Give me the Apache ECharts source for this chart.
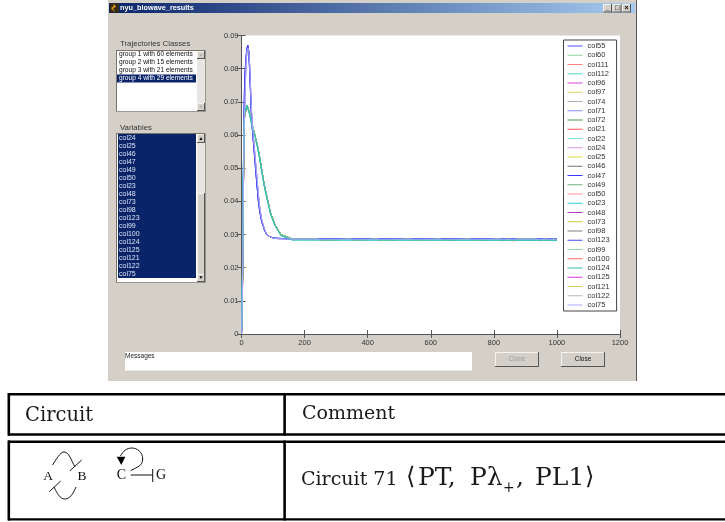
<!DOCTYPE html>
<html><head><meta charset="utf-8">
<style>html,body{margin:0;padding:0;background:#fff}#c{width:725px;height:522px}</style>
<script src="https://cdn.jsdelivr.net/npm/echarts@6/dist/echarts.min.js"></script>
</head><body><div id="c"></div>
<script>
const xTicks = [0,200,400,600,800,1000,1200];
const yTickLabels = ['0','0.01','0.02','0.03','0.04','0.05','0.06','0.07','0.08','0.09'];
const tallTime     = [0,3,5,8,10,14,17,20,23,26,32,38,43,48,53,58,64,72,80,92,106,125,160,1000];
const tallBlue     = [0,.015,.038,.066,.077,.083,.086,.087,.085,.079,.0646,.0575,.0516,.046,.0405,.0368,.0339,.0315,.0299,.0292,.0289,.0288,.0287,.0287];
const tallLavender = [0,.013,.034,.062,.068,.081,.085,.0862,.0855,.081,.0668,.0590,.0535,.0482,.0425,.0380,.0345,.0318,.0300,.0292,.0288,.0287,.0286,.0286];
const lowTime      = [0,3,5,8,10,14,17,20,23,26,32,38,43,48,53,58,64,72,80,92,106,125,160,240,242,256,258,345,347,358,360,430,432,440,442,535,537,552,554,628,630,640,642,722,724,734,736,818,820,830,832,848,850,858,860,864,866,872,874,934,936,944,946,966,968,976,978,990,992,1000];
const lowGreen     = [0,.012,.032,.062,.066,.0675,.069,.0695,.069,.0665,.0636,.0615,.0598,.0578,.0556,.0530,.0495,.0450,.0415,.0365,.0330,.0300,.0287,.0287,.0282,.0282,.0287,.0287,.0282,.0282,.0287,.0287,.0282,.0282,.0287,.0287,.0282,.0282,.0287,.0287,.0282,.0282,.0287,.0287,.0282,.0282,.0287,.0287,.0282,.0282,.0287,.0287,.0282,.0282,.0287,.0287,.0282,.0282,.0287,.0287,.0282,.0282,.0287,.0287,.0282,.0282,.0287,.0287,.0282,.0282];
const cyanTime     = [0,3,5,8,10,14,17,20,23,26,32,38,43,48,53,58,64,72,80,92,106,125,160,1000];
const lowCyan      = [0,.018,.045,.063,.0665,.068,.069,.0692,.0688,.0662,.0632,.0612,.0595,.0575,.0553,.0527,.0492,.0447,.0412,.0362,.0327,.0297,.0284,.0283];
const seriesNames  = ['col55','col60','col111','col112','col96','col97','col74','col71','col72','col21','col22','col24','col25','col46','col47','col49','col50','col23','col48','col73','col98','col123','col99','col100','col124','col125','col121','col122','col75'];
const seriesColors = ['#4a4aff','#8fd49a','#ff8080','#55d0cc','#e040e0','#d8d860','#b0b0b0','#8a8aff','#409a50','#ff5050','#80e0dc','#e090e0','#dcdc30','#707070','#3838ff','#70b080','#ff9090','#30d0d8','#b040c0','#c8c830','#808080','#4848e8','#90d8a0','#ff6060','#30b8a8','#e030e0','#d0d060','#b8b8b8','#a8a8ff'];
const seriesCurves = ['tallBlue','lowGreen','lowGreen','lowCyan','lowGreen','lowGreen','tallLavender','tallLavender','lowGreen','lowGreen','lowCyan','tallLavender','lowGreen','lowGreen','tallBlue','lowGreen','lowGreen','lowCyan','lowGreen','lowGreen','lowGreen','tallBlue','lowGreen','lowGreen','lowCyan','lowGreen','lowGreen','tallLavender','tallLavender'];
const frontSeries  = ['col71','col75','col72','col49','col99','col112','col22','col23','col124','col55','col47','col123'];
const trajectoryClasses = ['group 1 with 60 elements','group 2 with 15 elements','group 3 with 21 elements','group 4 with 29 elements'];
const variableNames = ['col24','col25','col46','col47','col49','col50','col23','col48','col73','col98','col123','col99','col100','col124','col125','col121','col122','col75'];
const curves = {tallBlue:[tallTime,tallBlue], tallLavender:[tallTime,tallLavender], lowGreen:[lowTime,lowGreen], lowCyan:[cyanTime,lowCyan]};

const UI='"Liberation Sans",Arial,sans-serif', SERIF='"DejaVu Serif",serif';
const G=[];
const rect=(x,y,w,h,fill,extra)=>G.push(Object.assign({type:'rect',shape:{x,y,width:w,height:h},style:{fill,stroke:null},z:-5},extra||{}));
const txt=(x,y,t,o)=>G.push({type:'text',x,y,z:-3,style:Object.assign({text:t,fill:'#222',font:'7px '+UI,textVerticalAlign:'middle'},o||{})});
const ln=(x1,y1,x2,y2,c,w)=>G.push({type:'line',shape:{x1,y1,x2,y2},z:-3,style:{stroke:c||'#111',lineWidth:w||1}});
const bez=(x1,y1,cpx1,cpy1,cpx2,cpy2,x2,y2)=>G.push({type:'bezierCurve',shape:{x1,y1,x2,y2,cpx1,cpy1,cpx2,cpy2},z:-3,style:{fill:null,stroke:'#111',lineWidth:1}});
const sunken=(x,y,w,h)=>{rect(x,y,w,1,'#77746c',{z:-4});rect(x,y,1,h,'#77746c',{z:-4});rect(x,y+h-1,w,1,'#9a978f',{z:-4});rect(x+w-1,y,1,h,'#9a978f',{z:-4});};
const raised=(x,y,w,h,c)=>{rect(x,y,w,h,c||'#d4d0c8',{z:-4});rect(x,y+h-1,w,1,'#555',{z:-4});rect(x+w-1,y,1,h,'#555',{z:-4});rect(x,y,w-1,1,'#f4f2ee',{z:-4});rect(x,y,1,h-1,'#f4f2ee',{z:-4});};

// window
rect(108,0,529,381,'#d4d0c8');
rect(636,0,1,381,'#555',{z:-4});
G.push({type:'rect',z:-4,shape:{x:109,y:3,width:526,height:10},style:{fill:new echarts.graphic.LinearGradient(0,0,1,0,[{offset:0,color:'#0a246a'},{offset:1,color:'#a6caf0'}])}});
rect(110,3.5,9,9,'#3a2a10',{z:-3});
G.push({type:'polygon',z:-3,shape:{points:[[114,4],[116,7],[113,8],[115,12],[111,8],[113,7]]},style:{fill:'#f0a020'}});
txt(120,8,'nyu_biowave_results',{fill:'#fff',font:'bold 7.3px '+UI});
[[603,'_'],[612.5,'□'],[622,'×']].forEach(b=>{raised(b[0],4,9,8.5);txt(b[0]+4.5,8,b[1],{fill:'#000',font:'bold 7px '+UI,textAlign:'center'});});

// list 1
txt(120,43.5,'Trajectories Classes',{font:'7.8px '+UI,fill:'#333'});
rect(116,50,90,62,'#fff');sunken(116,50,90,62);
rect(197,51,8,60,'#e8e6e2',{z:-4});
raised(197,51,8,8);raised(197,103,8,8);
txt(201,55,'▲',{fill:'#aaa',font:'4px '+UI,textAlign:'center'});
txt(201,107,'▼',{fill:'#aaa',font:'4px '+UI,textAlign:'center'});
rect(117,74.5,79,8,'#0a246a',{z:-4});
trajectoryClasses.forEach((t,i)=>txt(119,54.5+i*8,t,{font:'6.6px '+UI,fill:i===3?'#fff':'#111'}));

// list 2
txt(120,127.5,'Variables',{font:'7.8px '+UI,fill:'#333'});
rect(116,133,90,150,'#fff');sunken(116,133,90,150);
rect(118,134,78,144,'#0a246a',{z:-4});
rect(197,134,8,148,'#e8e6e2',{z:-4});
raised(197,193,8,82);raised(197,134,8,9);raised(197,274,8,8);
txt(201,138.5,'▲',{fill:'#000',font:'5px '+UI,textAlign:'center'});
txt(201,278,'▼',{fill:'#000',font:'5px '+UI,textAlign:'center'});
variableNames.forEach((t,i)=>txt(119,138.5+i*8,t,{fill:'#dfe4f2'}));

// messages + buttons
rect(125,352,347,18.5,'#fff');
txt(125,356.5,'Messages',{font:'6.5px '+UI});
raised(495,352,44,15);txt(517,359.5,'Clone',{fill:'#999',font:'6.5px '+UI,textAlign:'center'});
raised(561,352,44,15);txt(583,359.5,'Close',{fill:'#111',font:'6.5px '+UI,textAlign:'center'});

// table
const B='#000';
rect(8,393,717,2.6,B);rect(8,433.3,717,2.4,B);rect(8,440.5,717,2.4,B);rect(8,518.2,717,2.4,B);
rect(7.5,393,2.6,42.7,B);rect(7.5,440.5,2.6,80,B);rect(283.3,393,2.6,42.7,B);rect(283.3,440.5,2.6,80,B);
const TC='#1a1a1a';
txt(25,415.5,'Circuit',{font:'19.5px '+SERIF,fill:TC});
txt(302,414.5,'Comment',{font:'19px '+SERIF,fill:TC});
txt(301,480.5,'Circuit 71',{font:'19px '+SERIF,fill:TC});
txt(406,478,'⟨',{font:'24px '+SERIF,fill:TC});
txt(418,478,'PT,',{font:'25px '+SERIF,fill:TC});
txt(470,478,'Pλ',{font:'25px '+SERIF,fill:TC});
txt(503,488,'+',{font:'14px '+SERIF,fill:TC});
txt(516,478,',',{font:'25px '+SERIF,fill:TC});
txt(535,478,'PL1',{font:'25px '+SERIF,fill:TC});
txt(585,478,'⟩',{font:'24px '+SERIF,fill:TC});

// circuit diagram
const S='"Liberation Serif",serif';
txt(48,476.5,'A',{font:'13.5px '+S,textAlign:'center',fill:'#111'});
txt(82,476.5,'B',{font:'13.5px '+S,textAlign:'center',fill:'#111'});
txt(121.3,475,'C',{font:'14px '+S,textAlign:'center',fill:'#111'});
txt(161,475,'G',{font:'14px '+S,textAlign:'center',fill:'#111'});
bez(52.5,465,56,460,60,452,64,452);
bez(64,452,69,452,71,460,75,467);
ln(70,470.7,81.7,460);
bez(54,487,57,493,60,499,64.5,499);
bez(64.5,499,70,499,73,494,76,487);
ln(49.3,491.7,60.7,481);
bez(130.7,470.7,137,467,142.7,466,142.7,459);
bez(142.7,459,142.7,452,137,448,131.7,448);
bez(131.7,448,127,448,123,451,120.5,456);
G.push({type:'polygon',z:-3,shape:{points:[[116.7,456.7],[125.3,456.7],[121.3,465]]},style:{fill:'#000'}});
ln(130.7,475,152.7,475);
ln(152.7,469,152.7,482);

const series = seriesNames.map((n,i)=>{
  const c=curves[seriesCurves[i]];
  return {name:n,type:'line',z:frontSeries.indexOf(n)>=0?3:1,showSymbol:false,symbol:'none',animation:false,silent:true,
    lineStyle:{width:1,color:seriesColors[i]},itemStyle:{color:seriesColors[i]},
    data:c[0].map((t,k)=>[t,c[1][k]])};
});

const common={min:0,type:'value',splitLine:{show:false},axisLine:{show:true,lineStyle:{color:'#555',width:1}},
  axisTick:{show:true,inside:true,length:4,lineStyle:{color:'#555',width:1}}};
const chart=echarts.init(document.getElementById('c'),null,{renderer:'canvas'});
chart.setOption({
  animation:false,backgroundColor:'#fff',
  grid:{left:241.5,top:35.5,width:378.5,height:298.5,show:true,backgroundColor:'#fff',borderWidth:0,z:0},
  xAxis:[
    Object.assign({},common,{max:1200,interval:200,position:'bottom',axisLabel:{color:'#333',fontSize:7.5,fontFamily:UI,margin:5,showMinLabel:true,showMaxLabel:true,formatter:(v)=>String(xTicks[Math.round(v/200)])}}),
    Object.assign({},common,{max:1200,interval:200,position:'top',axisLabel:{show:false}})
  ],
  yAxis:[
    Object.assign({},common,{max:.09,interval:.01,position:'left',axisLabel:{color:'#333',fontSize:7.5,fontFamily:UI,margin:3,showMaxLabel:true,formatter:(v)=>yTickLabels[Math.round(v*100)]}}),
    Object.assign({},common,{max:.09,interval:.01,position:'right',axisLabel:{show:false}})
  ],
  legend:{show:true,orient:'vertical',left:563.5,top:40,padding:[2,7,2,4],itemGap:1.25,itemWidth:15,itemHeight:7,
    backgroundColor:'#fff',borderColor:'#444',borderWidth:1,borderRadius:0,icon:'path://M0 0 H15 V1 H0 Z',
    textStyle:{fontSize:7.5,color:'#333',fontFamily:UI},data:seriesNames,selectedMode:false},
  graphic:{elements:G},
  series
});
</script></body></html>
